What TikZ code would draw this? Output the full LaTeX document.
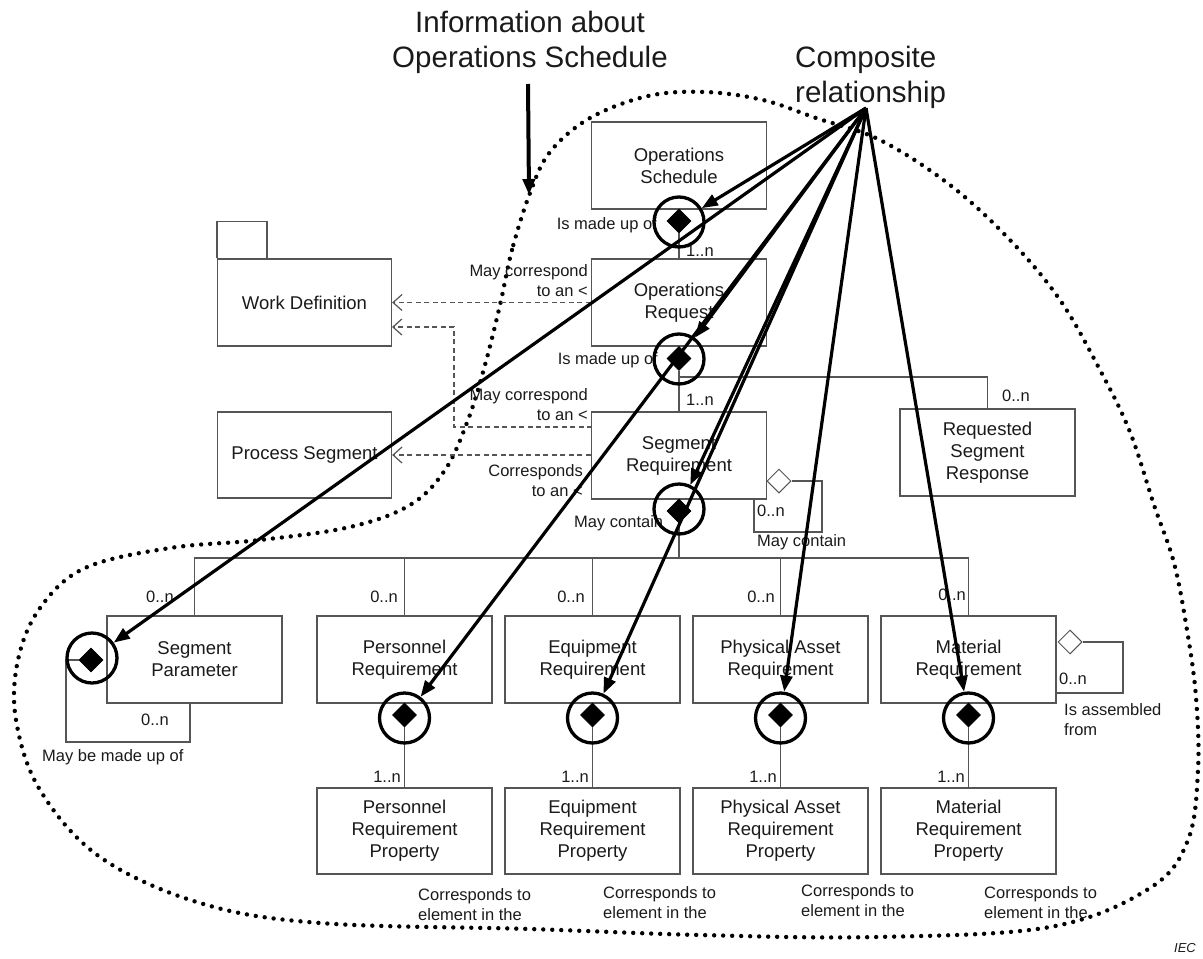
\documentclass[tikz,border=0pt]{standalone}
\usepackage{fontspec}
\setmainfont{Liberation Sans}
\usetikzlibrary{arrows.meta,shapes.geometric}
\definecolor{edge}{HTML}{555555}
\definecolor{ink}{HTML}{1A1A1A}

\begin{document}
\begin{tikzpicture}[x=1pt,y=-1pt,
  box/.style={draw=edge,line width=1.3pt,fill=white,minimum width=175pt,minimum height=87pt,
    inner sep=0pt,align=center,font=\fontsize{18.5}{22}\selectfont,text=ink},
  lbl/.style={font=\fontsize{16.5}{20}\selectfont,text=ink,inner sep=0pt},
  comp/.style={diamond,fill=black,draw=black,line width=0.6pt,minimum width=24pt,minimum height=24pt,inner sep=0pt},
  agg/.style={diamond,fill=white,draw=edge,line width=1pt,minimum width=24pt,minimum height=24pt,inner sep=0pt},
  ring/.style={circle,draw=black,line width=3.3pt,minimum size=50pt,inner sep=0pt},
  link/.style={draw=edge,line width=1.2pt},
  dep/.style={draw=edge,line width=1.2pt,dash pattern=on 5pt off 3.5pt,
    -{Straight Barb[length=9pt,width=16pt,line width=1.2pt]}},
  hint/.style={draw=black,line width=3.2pt,-{Triangle[length=16pt,width=12pt]}},
  heading/.style={font=\fontsize{29.5}{35}\selectfont,text=ink,inner sep=0pt},
  fence/.style={draw=black,line width=4.4pt,line cap=round,dash pattern=on 0pt off 9pt}
]
\useasboundingbox (0,0) rectangle (1203,959);

% scope boundary of the schedule information
\draw[fence] plot[smooth cycle,tension=0.6] coordinates {
  (530,193) (512,250) (500,305) (485,365) (468,420) (445,470) (410,505) (350,527)
  (260,540) (170,548) (85,568) (40,608) (18,660) (16,720) (40,790) (100,857)
  (200,903) (320,923) (530,929) (700,935) (876,937) (1050,927) (1150,888)
  (1188,840) (1198,770) (1196,697) (1187,630) (1174,563) (1154,505) (1130,432)
  (1100,370) (1060,300) (1010,240) (950,185) (880,140) (816,118) (763,100)
  (705,92) (648,96) (590,118) (550,152)};

% headings
\node[heading,align=center] (info) at (530,42) {Information about\\Operations Schedule};
\node[heading,align=left,anchor=west] (compo) at (795,77) {Composite\\relationship};

% classes
\node[box] (os)  at (679,165.5) {Operations\\Schedule};
\node[box] (orq) at (679,302.5) {Operations\\Request};
\node[box] (sr)  at (679,455.5) {Segment\\Requirement};
\node[box,minimum width=174pt] (wd) at (304.5,302.5) {Work Definition};
\draw[draw=edge,line width=1.4pt] (wd.north west) -- ++(0,-37) -- ++(50,0) -- ++(0,37);
\node[box,minimum width=174pt,minimum height=86pt] (ps) at (304.5,455) {Process Segment};
\node[box] (rsr) at (987.5,452.5) {Requested\\Segment\\Response};

\node[box] (sp)  at (194.5,659.5) {Segment\\Parameter};
\node[box] (pr)  at (404.5,659.5) {Personnel\\Requirement};
\node[box] (er)  at (592.5,659.5) {Equipment\\Requirement};
\node[box] (par) at (780.5,659.5) {Physical Asset\\Requirement};
\node[box] (mr)  at (968.5,659.5) {Material\\Requirement};

\node[box,minimum height=86pt] (prp)  at (404.5,831) {Personnel\\Requirement\\Property};
\node[box,minimum height=86pt] (erp)  at (592.5,831) {Equipment\\Requirement\\Property};
\node[box,minimum height=86pt] (parp) at (780.5,831) {Physical Asset\\Requirement\\Property};
\node[box,minimum height=86pt] (mrp)  at (968.5,831) {Material\\Requirement\\Property};

% composition diamonds
\node[comp] (dOS) at (679,221) {};
\node[comp] (dOR) at (679,358.5) {};
\node[comp] (dSR) at (679,511) {};
\node[comp] (dSP) at (91,660) {};
\node[comp] (dPR) at (404.5,715) {};
\node[comp] (dER) at (592.5,715) {};
\node[comp] (dPA) at (780.5,715) {};
\node[comp] (dMR) at (968.5,715) {};

% aggregation diamonds
\node[agg] (aSR) at (779,481) {};
\node[agg] (aMR) at (1070,642) {};

% associations
\draw[link] (dOS.south) -- (orq.north);
\draw[link] (dOR.south) -- (sr.north);
\coordinate (split) at (679,377);
\draw[link] (split) -| (rsr.north);
\coordinate (bus) at (679,558);
\draw[link] (dSR.south) -- (bus);
\draw[link] (sp.north) -- (sp.north |- bus) -- (mr.north |- bus) -- (mr.north);
\draw[link] (pr.north) -- (pr.north |- bus);
\draw[link] (er.north) -- (er.north |- bus);
\draw[link] (par.north) -- (par.north |- bus);
\draw[link] (dPR.south) -- (prp.north);
\draw[link] (dER.south) -- (erp.north);
\draw[link] (dPA.south) -- (parp.north);
\draw[link] (dMR.south) -- (mrp.north);

% self associations
\draw[link] (aSR.east) -- (822,481) -- (822,532) -- (754,532) -- (754,499);
\draw[link] (aMR.east) -- (1123,642) -- (1123,693) -- (1057,693);
\draw[link] (dSP.west) -- (66,660) -- (66,742) -- (190,742) -- (190,703);

% dependencies
\draw[dep] (orq.west) -- (wd.east);
\draw[dep] (592,427) -- (454,427) -- (454,327) -- (392,327);
\draw[dep] (sr.west |- ps.east) -- (ps.east);

% labels
\node[lbl,anchor=east] (m1) at (657,225) {Is made up of};
\node[lbl,anchor=west] (n1) at (686,251) {1..n};
\node[lbl,anchor=east,align=right] (c1) at (588,281) {May correspond\\to an <};
\node[lbl,anchor=east] (m2) at (658,360) {Is made up of};
\node[lbl,anchor=west] (n2) at (686,400) {1..n};
\node[lbl,anchor=west] (n3) at (1002,396) {0..n};
\node[lbl,anchor=east,align=right] (c2) at (588,405) {May correspond\\to an <};
\node[lbl,anchor=east,align=right] (c3) at (583,481) {Corresponds\\to an <};
\node[lbl,anchor=west] (mc1) at (574,523) {May contain};
\node[lbl,anchor=west] (n4) at (757,511) {0..n};
\node[lbl,anchor=west] (mc2) at (757,542) {May contain};

\node[lbl,anchor=west] (n5) at (146,597) {0..n};
\node[lbl,anchor=east] (n6) at (398,597) {0..n};
\node[lbl,anchor=east] (n7) at (585,597) {0..n};
\node[lbl,anchor=east] (n8) at (775,597) {0..n};
\node[lbl,anchor=east] (n9) at (966,595) {0..n};

\node[lbl,anchor=west] (n10) at (141,720) {0..n};
\node[lbl,anchor=west] (mb) at (42,757) {May be made up of};
\node[lbl,anchor=west] (n11) at (1059,679) {0..n};
\node[lbl,anchor=west,align=left] (ia) at (1064,720) {Is assembled\\from};

\node[lbl,anchor=east] (n12) at (401,777) {1..n};
\node[lbl,anchor=east] (n13) at (589,777) {1..n};
\node[lbl,anchor=east] (n14) at (777,777) {1..n};
\node[lbl,anchor=east] (n15) at (965,777) {1..n};

\node[lbl,anchor=west,align=left] (e1) at (418,905) {Corresponds to\\element in the};
\node[lbl,anchor=west,align=left] (e2) at (603,903) {Corresponds to\\element in the};
\node[lbl,anchor=west,align=left] (e3) at (801,901) {Corresponds to\\element in the};
\node[lbl,anchor=west,align=left] (e4) at (984,903) {Corresponds to\\element in the};

\node[font=\fontsize{13}{15}\selectfont\itshape,text=ink,inner sep=0pt] (iec) at (1185,948) {IEC};

% highlight rings around compositions
\node[ring] (rOS) at (679,222) {};
\node[ring] (rOR) at (679,359) {};
\node[ring] (rSR) at (679,509) {};
\node[ring] (rSP) at (92,658) {};
\node[ring] (rPR) at (404.5,718) {};
\node[ring] (rER) at (592.5,718) {};
\node[ring] (rPA) at (780.5,718) {};
\node[ring] (rMR) at (968.5,718) {};

% pointers
\coordinate (cr) at (866,108);
\draw[hint] (cr) -- (rOS);
\draw[hint] (cr) -- (rSP);
\draw[hint] (cr) -- (rOR);
\draw[hint] (cr) -- (rSR);
\draw[hint] (cr) -- (rPR);
\draw[hint] (cr) -- (rER);
\draw[hint] (cr) -- (rPA);
\draw[hint] (cr) -- (rMR);
\coordinate (infotop) at (528,84);
\coordinate (infotip) at (529,195);
\draw[hint,line width=4pt] (infotop) -- (infotip);
\end{tikzpicture}
\end{document}
